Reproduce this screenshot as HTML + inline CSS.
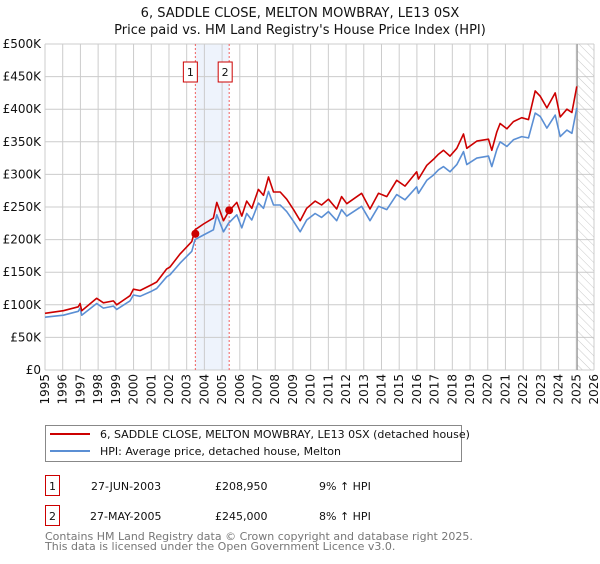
<!DOCTYPE html>
<html><head><meta charset="utf-8"><style>
body{margin:0;background:#fff;font-family:"DejaVu Sans","Liberation Sans",sans-serif;}
svg text{font-family:"DejaVu Sans","Liberation Sans",sans-serif;}
</style></head><body>
<svg id="c" width="600" height="560" xmlns="http://www.w3.org/2000/svg">
<defs><pattern id="hatch" width="6" height="6" patternUnits="userSpaceOnUse" patternTransform="rotate(-45)"><line x1="0" y1="0" x2="0" y2="6" stroke="#bbb" stroke-width="0.8"/></pattern></defs>
<text x="300" y="17" text-anchor="middle" font-size="13" fill="#111">6, SADDLE CLOSE, MELTON MOWBRAY, LE13 0SX</text>
<text x="300" y="34" text-anchor="middle" font-size="13" fill="#111">Price paid vs. HM Land Registry's House Price Index (HPI)</text>
<g id="grid"></g>
<g id="marks"></g>
<g id="axes"></g>
<g>
<rect x="45.5" y="425.5" width="416" height="36" fill="#fff" stroke="#888"/>
<line x1="50" y1="434" x2="90" y2="434" stroke="#cc0000" stroke-width="2"/>
<text x="100" y="438" font-size="11" fill="#111">6, SADDLE CLOSE, MELTON MOWBRAY, LE13 0SX (detached house)</text>
<line x1="50" y1="451" x2="90" y2="451" stroke="#5b8fd4" stroke-width="2"/>
<text x="100" y="455" font-size="11" fill="#111">HPI: Average price, detached house, Melton</text>
</g>
<g font-size="11" fill="#111">
<rect x="45.5" y="475.5" width="14" height="20" fill="#fff" stroke="#cc0000"/>
<text x="52.5" y="490" text-anchor="middle">1</text>
<text x="91" y="490">27-JUN-2003</text><text x="215" y="490">£208,950</text><text x="319" y="490">9% ↑ HPI</text>
<rect x="45.5" y="505.5" width="14" height="20" fill="#fff" stroke="#cc0000"/>
<text x="52.5" y="520" text-anchor="middle">2</text>
<text x="90" y="520">27-MAY-2005</text><text x="215" y="520">£245,000</text><text x="319" y="520">8% ↑ HPI</text>
</g>
<text x="45" y="540" font-size="11" fill="#777">Contains HM Land Registry data © Crown copyright and database right 2025.</text>
<text x="45" y="550" font-size="11" fill="#777">This data is licensed under the Open Government Licence v3.0.</text>
</svg>
<script>
const hpiYears=[1995.0,1996.04,1996.88,1996.98,1997.07,1997.92,1998.3,1998.86,1999.05,1999.8,1999.99,2000.37,2001.03,2001.31,2001.87,2002.06,2002.63,2003.29,2003.47,2003.95,2004.51,2004.7,2005.08,2005.36,2005.83,2006.11,2006.39,2006.68,2007.05,2007.34,2007.62,2007.9,2008.28,2008.65,2009.03,2009.41,2009.78,2010.25,2010.62,2011.0,2011.47,2011.75,2012.04,2012.88,2013.35,2013.83,2014.3,2014.86,2015.33,2015.99,2016.09,2016.56,2016.93,2017.22,2017.5,2017.87,2018.25,2018.63,2018.82,2019.38,2020.04,2020.23,2020.51,2020.7,2021.08,2021.45,2021.92,2022.3,2022.68,2022.96,2023.34,2023.81,2024.09,2024.47,2024.75,2025.03];
const hpiValues=[81,84,90,95,84,102,95,98,93,106,115,113,121,125,143,146,164,182,200,207,215,238,212,225,238,218,240,230,256,248,274,253,253,243,228,212,230,240,234,243,229,246,236,251,229,251,246,269,261,281,271,291,299,307,312,304,315,335,315,325,328,312,338,350,343,353,358,356,394,389,371,391,358,368,363,402];
const propValues=[87,91,97,102,91,110,103,106,100,114,124,122,131,135,155,158,178,197,215,224,233,257,229,243,257,236,259,248,277,268,296,273,273,262,246,229,248,259,253,262,247,266,255,271,247,271,266,291,282,304,293,314,323,331,337,328,340,362,340,351,354,337,365,378,370,381,387,384,428,420,402,425,388,400,395,435];
const saleYears=[2003.49,2005.4];
const saleValues=[208.95,245];
const saleLabels=["1","2"];
const yTicks=[0,50,100,150,200,250,300,350,400,450,500];
const yTickLabels=["£0","£50K","£100K","£150K","£200K","£250K","£300K","£350K","£400K","£450K","£500K"];
const xTicks=[1995,1996,1997,1998,1999,2000,2001,2002,2003,2004,2005,2006,2007,2008,2009,2010,2011,2012,2013,2014,2015,2016,2017,2018,2019,2020,2021,2022,2023,2024,2025,2026];
const dataEnd=2025.05;

const X0=45,X1=594,Y0=370,Y1=44;
const xs=y=>X0+(y-1995)/(2026-1995)*(X1-X0);
const ys=v=>Y0-v/500*(Y0-Y1);
const NS="http://www.w3.org/2000/svg";
function mk(parent,tag,attrs){const e=document.createElementNS(NS,tag);for(const k in attrs)e.setAttribute(k,attrs[k]);document.getElementById(parent).appendChild(e);return e;}
// shaded band
let band=mk('grid','rect',{x:xs(saleYears[0]),y:Y1,width:xs(saleYears[1])-xs(saleYears[0]),height:Y0-Y1,fill:'#eef3fc'});


// gridlines
yTicks.forEach((t,i)=>{
 let l=mk('grid','line',{x1:X0,x2:X1,y1:ys(t),y2:ys(t),stroke:'#ccc','stroke-width':1});
 
 
 let tx=mk('axes','text',{x:X0-4,y:ys(t)+4,'text-anchor':'end','font-size':12,fill:'#111'});
 tx.textContent=yTickLabels[i];
 
 
});
xTicks.forEach(t=>{
 let l=mk('grid','line',{x1:xs(t),x2:xs(t),y1:Y1,y2:Y0,stroke:'#ccc','stroke-width':1});
 
 
 let tx=mk('axes','text',{x:0,y:0,'text-anchor':'end','font-size':12,fill:'#111',transform:`translate(${xs(t)+4},${Y0+4}) rotate(-90)`});
 tx.textContent=t;
 
 
});
// hatch forecast
let h=mk('grid','rect',{x:xs(dataEnd),y:Y1,width:X1-xs(dataEnd),height:Y0-Y1,fill:'url(#hatch)'});


let vl=mk('grid','line',{x1:xs(dataEnd),x2:xs(dataEnd),y1:Y1,y2:Y0,stroke:'#999','stroke-width':1.2});


// sale lines
saleYears.forEach((s,i)=>{
 let l=mk('marks','line',{x1:xs(s),x2:xs(s),y1:Y1,y2:Y0,stroke:'#f06060','stroke-width':1,'stroke-dasharray':'2,2'});
 
 
});
function path(vals,color,name){
 let d=hpiYears.map((y,i)=>(i?'L':'M')+xs(y).toFixed(1)+','+ys(vals[i]).toFixed(1)).join('');
 let p=mk('marks','path',{d:d,fill:'none',stroke:color,'stroke-width':1.6,'stroke-linejoin':'round'});
 
 
}
path(hpiValues,'#5b8fd4','hpi-line');
path(propValues,'#cc0000','property-line');
saleYears.forEach((s,i)=>{
 let c=mk('marks','circle',{cx:xs(s),cy:ys(saleValues[i]),r:4,fill:'#cc0000'});
 
 
 let r=mk('marks','rect',{x:xs(s)-11+(i?0:-1),y:Y1+18,width:14,height:20,fill:'#fff',stroke:'#cc0000'});
 
 
 let t=mk('marks','text',{x:xs(s)-4+(i?0:-1),y:Y1+32,'text-anchor':'middle','font-size':11,fill:'#111'});
 t.textContent=saleLabels[i];
 
 
});
</script>
</body></html>
